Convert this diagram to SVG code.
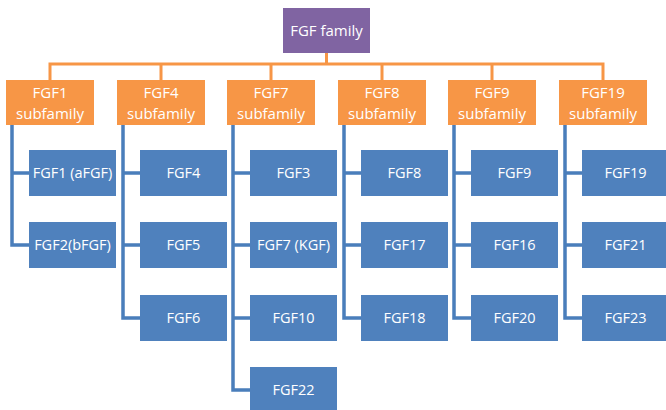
<svg xmlns="http://www.w3.org/2000/svg" width="666" height="410" viewBox="0 0 666 410">
<style>
.root{fill:#8064A2}
.sub{fill:#F79646}
.leaf{fill:#4F81BD}
text{font-family:"Open Sans","Liberation Sans",sans-serif;fill:#FFFFFF;text-anchor:middle}
.t{font-size:15px}
.s{font-size:15px}
.l{font-size:14.5px}
.oc{fill:none;stroke:#F79646;stroke-width:3}
.bc{fill:none;stroke:#4A7EBB;stroke-width:3.5}
</style>
<rect width="666" height="410" fill="#FFFFFF"/>
<g id="connectors">
<path class="oc" d="M326.5 53V64M50 80V64H603V80M161 64V80M271 64V80M382 64V80M492 64V80"/>
<path class="bc" d="M12 125V245H29M12 173H29"/>
<path class="bc" d="M123 125V318H140M123 173H140M123 245H140"/>
<path class="bc" d="M233 125V390H250M233 173H250M233 245H250M233 318H250"/>
<path class="bc" d="M344 125V318H361M344 173H361M344 245H361"/>
<path class="bc" d="M454 125V318H471M454 173H471M454 245H471"/>
<path class="bc" d="M565 125V318H582M565 173H582M565 245H582"/>
</g>
<g id="fgf-family"><rect class="root" x="283" y="8" width="87" height="45"/><text class="t" x="326.5" y="36">FGF family</text></g>
<g id="fgf1-sub"><rect class="sub" x="6" y="80" width="88" height="45"/><text class="s" x="50" y="98">FGF1</text><text class="s" x="50" y="119">subfamily</text></g>
<g id="fgf4-sub"><rect class="sub" x="117" y="80" width="88" height="45"/><text class="s" x="161" y="98">FGF4</text><text class="s" x="161" y="119">subfamily</text></g>
<g id="fgf7-sub"><rect class="sub" x="227" y="80" width="88" height="45"/><text class="s" x="271" y="98">FGF7</text><text class="s" x="271" y="119">subfamily</text></g>
<g id="fgf8-sub"><rect class="sub" x="338" y="80" width="88" height="45"/><text class="s" x="382" y="98">FGF8</text><text class="s" x="382" y="119">subfamily</text></g>
<g id="fgf9-sub"><rect class="sub" x="448" y="80" width="88" height="45"/><text class="s" x="492" y="98">FGF9</text><text class="s" x="492" y="119">subfamily</text></g>
<g id="fgf19-sub"><rect class="sub" x="559" y="80" width="88" height="45"/><text class="s" x="603" y="98">FGF19</text><text class="s" x="603" y="119">subfamily</text></g>
<g id="fgf1"><rect class="leaf" x="29" y="150" width="87" height="46"/><text class="l" x="72.5" y="178">FGF1 (aFGF)</text></g>
<g id="fgf2"><rect class="leaf" x="29" y="222" width="87" height="46"/><text class="l" x="72.5" y="250">FGF2(bFGF)</text></g>
<g id="fgf4"><rect class="leaf" x="140" y="150" width="87" height="46"/><text class="l" x="183.5" y="178">FGF4</text></g>
<g id="fgf5"><rect class="leaf" x="140" y="222" width="87" height="46"/><text class="l" x="183.5" y="250">FGF5</text></g>
<g id="fgf6"><rect class="leaf" x="140" y="295" width="87" height="46"/><text class="l" x="183.5" y="323">FGF6</text></g>
<g id="fgf3"><rect class="leaf" x="250" y="150" width="87" height="46"/><text class="l" x="293.5" y="178">FGF3</text></g>
<g id="fgf7"><rect class="leaf" x="250" y="222" width="87" height="46"/><text class="l" x="293.5" y="250">FGF7 (KGF)</text></g>
<g id="fgf10"><rect class="leaf" x="250" y="295" width="87" height="46"/><text class="l" x="293.5" y="323">FGF10</text></g>
<g id="fgf22"><rect class="leaf" x="250" y="367" width="87" height="46"/><text class="l" x="293.5" y="395">FGF22</text></g>
<g id="fgf8"><rect class="leaf" x="361" y="150" width="87" height="46"/><text class="l" x="404.5" y="178">FGF8</text></g>
<g id="fgf17"><rect class="leaf" x="361" y="222" width="87" height="46"/><text class="l" x="404.5" y="250">FGF17</text></g>
<g id="fgf18"><rect class="leaf" x="361" y="295" width="87" height="46"/><text class="l" x="404.5" y="323">FGF18</text></g>
<g id="fgf9"><rect class="leaf" x="471" y="150" width="87" height="46"/><text class="l" x="514.5" y="178">FGF9</text></g>
<g id="fgf16"><rect class="leaf" x="471" y="222" width="87" height="46"/><text class="l" x="514.5" y="250">FGF16</text></g>
<g id="fgf20"><rect class="leaf" x="471" y="295" width="87" height="46"/><text class="l" x="514.5" y="323">FGF20</text></g>
<g id="fgf19"><rect class="leaf" x="582" y="150" width="87" height="46"/><text class="l" x="625.5" y="178">FGF19</text></g>
<g id="fgf21"><rect class="leaf" x="582" y="222" width="87" height="46"/><text class="l" x="625.5" y="250">FGF21</text></g>
<g id="fgf23"><rect class="leaf" x="582" y="295" width="87" height="46"/><text class="l" x="625.5" y="323">FGF23</text></g>
</svg>
